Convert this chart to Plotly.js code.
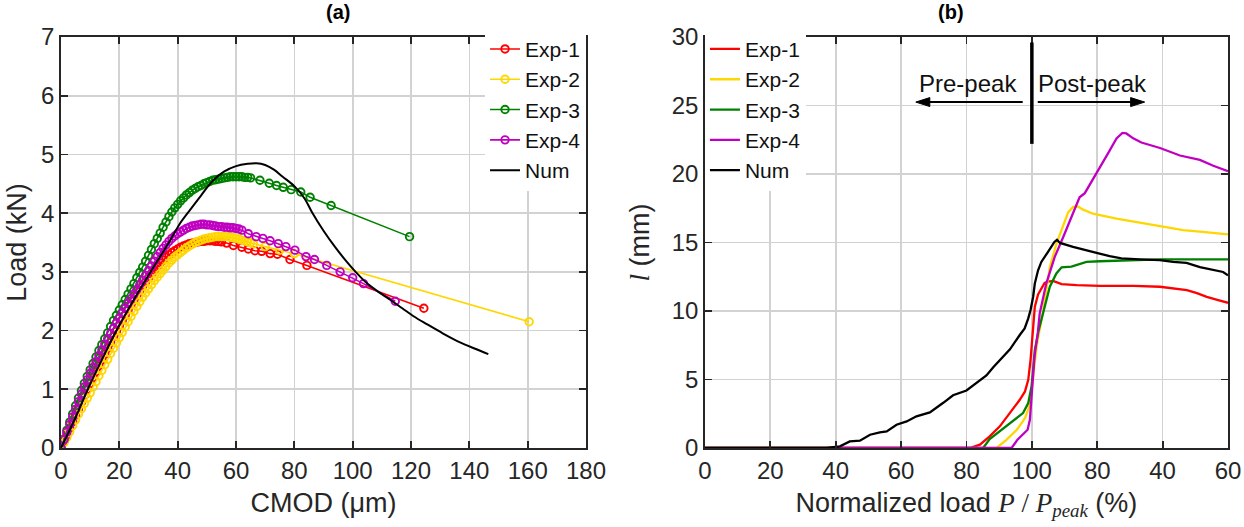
<!DOCTYPE html>
<html><head><meta charset="utf-8">
<script src="https://cdn.plot.ly/plotly-3.0.1.min.js"></script>
<style>html,body{margin:0;padding:0;background:#fff}#chart{width:1244px;height:527px}</style>
</head><body><div id="chart"></div>
<script>
// ---------- Panel (a): Load vs CMOD ----------
const exp1Cmod = [0,1,2,3,4,5,6,7,8,9,10,11,12,13,14,15,16,17,18,19,20,21,22,23,24,25,26,27,28,29,30,31,32,33,34,35,36,37,38,39,40,41,42,43,44,45,46,47,48,49,50,51,52,53,54,55,56.8,59.1,62.0,64.2,66.5,68.8,71.7,74.2,78.5,84.3,124.4];
const exp1Load = [0,0.11,0.22,0.34,0.45,0.56,0.67,0.78,0.89,1.0,1.1,1.2,1.3,1.4,1.5,1.6,1.7,1.8,1.9,1.99,2.08,2.17,2.26,2.35,2.44,2.52,2.6,2.68,2.76,2.83,2.9,2.97,3.03,3.09,3.15,3.2,3.25,3.29,3.33,3.36,3.39,3.42,3.44,3.46,3.48,3.49,3.5,3.51,3.52,3.52,3.53,3.53,3.53,3.52,3.52,3.51,3.49,3.45,3.42,3.39,3.36,3.35,3.31,3.30,3.21,3.11,2.38];

const exp2Cmod = [0,1,2,3,4,5,6,7,8,9,10,11,12,13,14,15,16,17,18,19,20,21,22,23,24,25,26,27,28,29,30,31,32,33,34,35,36,37,38,39,40,41,42,43,44,45,46,47,48,49,50,51,52,53,54,55,56,57,58,59,60,61,62,63,64,65,66,70,75,80,160.5];
const exp2Load = [0,0.09,0.18,0.28,0.38,0.48,0.58,0.67,0.76,0.85,0.94,1.04,1.13,1.23,1.32,1.42,1.51,1.61,1.7,1.79,1.88,1.97,2.06,2.15,2.24,2.33,2.41,2.49,2.57,2.64,2.71,2.78,2.85,2.91,2.97,3.03,3.09,3.15,3.2,3.25,3.29,3.33,3.37,3.41,3.44,3.47,3.5,3.52,3.54,3.56,3.57,3.58,3.59,3.6,3.6,3.6,3.6,3.6,3.59,3.58,3.57,3.56,3.54,3.53,3.51,3.5,3.48,3.43,3.37,3.31,2.15];

const exp3Cmod = [0,1,2,3,4,5,6,7,8,9,10,11,12,13,14,15,16,17,18,19,20,21,22,23,24,25,26,27,28,29,30,31,32,33,34,35,36,37,38,39,40,41,42,43,44,45,46,47,48,49,50,51,52,53,54,55,56,57,58,59,60,61,62,63,64,65,68.2,71.4,73.9,76.2,78.9,82.2,85.4,92.6,119.5];
const exp3Load = [0,0.15,0.3,0.44,0.58,0.72,0.85,0.98,1.1,1.22,1.33,1.44,1.55,1.66,1.76,1.86,1.96,2.07,2.17,2.26,2.35,2.44,2.53,2.62,2.71,2.8,2.9,2.99,3.08,3.18,3.28,3.38,3.48,3.57,3.66,3.76,3.85,3.94,4.02,4.09,4.15,4.21,4.26,4.31,4.35,4.39,4.42,4.45,4.47,4.5,4.52,4.54,4.56,4.57,4.58,4.59,4.6,4.61,4.62,4.62,4.62,4.62,4.62,4.61,4.61,4.6,4.56,4.51,4.47,4.44,4.40,4.36,4.27,4.13,3.6];

const exp4Cmod = [0,1,2,3,4,5,6,7,8,9,10,11,12,13,14,15,16,17,18,19,20,21,22,23,24,25,26,27,28,29,30,31,32,33,34,35,36,37,38,39,40,41,42,43,44,45,46,47,48,49,50,51,52,53,54,55,56,57,58,59,60,61,62,64.2,66.9,69.2,71.7,74.5,77.1,80.2,84.0,86.9,91.1,95.7,100.0,103.7,114.6];
const exp4Load = [0,0.14,0.27,0.4,0.53,0.66,0.79,0.92,1.04,1.16,1.27,1.37,1.47,1.57,1.67,1.77,1.86,1.95,2.04,2.13,2.21,2.3,2.38,2.46,2.54,2.62,2.7,2.78,2.86,2.94,3.02,3.1,3.18,3.26,3.33,3.4,3.46,3.52,3.57,3.61,3.65,3.68,3.71,3.74,3.76,3.78,3.79,3.8,3.81,3.81,3.8,3.8,3.79,3.78,3.77,3.77,3.76,3.76,3.75,3.75,3.74,3.73,3.71,3.65,3.6,3.57,3.53,3.48,3.43,3.37,3.26,3.21,3.11,3.0,2.9,2.8,2.5];

const numCmod = [0,5,9.4,14,19.1,25,31.1,37,41,44,48,52,56,60,64,67,70,73,76,80,83.5,86,90,94,97.5,101,105,110,113,117,121,125.4,131,136.8,142,146.5];
const numLoad = [0,0.52,1.02,1.5,2.01,2.53,3.03,3.5,3.84,4.04,4.3,4.55,4.71,4.8,4.84,4.85,4.82,4.74,4.62,4.46,4.25,4.02,3.7,3.42,3.2,3.0,2.8,2.62,2.52,2.38,2.24,2.11,1.95,1.8,1.69,1.6];

// ---------- Panel (b): crack length vs normalized load ----------
const bTickVals = [0,20,40,60,80,100,120,140,160];
const bTickText = ['0','20','40','60','80','100','80','40','60'];

const b1X = [0,81,84.1,87.1,90.2,93.3,96.3,97.9,98.9,99.6,100.2,100.9,101.9,102.9,103.9,105,106.5,109.1,113.7,120.9,131.1,139.2,144.3,147.4,150.5,153.5,157,160];
const b1L = [0,0,0.24,0.85,1.58,2.55,3.52,4.13,4.98,6.44,8.38,10.3,11.2,11.6,12.05,12.15,12.2,11.96,11.89,11.84,11.84,11.77,11.64,11.52,11.3,11.03,10.8,10.6];

const b2X = [0,89.2,92.3,95.4,97.9,99.4,100.3,101.5,103.5,105.5,107.5,109.6,111.1,112.6,114.1,115.7,118.7,125.9,136.1,146.3,153,160];
const b2L = [0,0,0.61,1.33,2.18,3.15,5.0,7.5,10.1,13.2,14.9,16.25,17.2,17.6,17.63,17.4,17.1,16.75,16.3,15.9,15.75,15.6];

const b3X = [0,85.1,87.1,90.2,94.3,97.3,98.9,99.9,100.5,100.9,102,103.5,104.5,105.5,107.5,109.1,112.1,114.6,116.7,120.8,131,139.2,147.3,160];
const b3L = [0,0,0.65,1.21,1.94,2.55,3.28,4.49,6.0,7.15,8.5,9.82,10.9,11.77,12.74,13.19,13.24,13.43,13.58,13.63,13.7,13.77,13.77,13.77];

const b4X = [0,93.8,95.6,97.2,98.7,99.4,99.7,100.2,100.8,101.8,102.4,104.4,107,109.6,112.1,114.6,116.2,118.2,120.8,123.3,125.9,127.7,128.9,131,133.5,139.2,145.3,151.4,155.5,160];
const b4L = [0,0,0.61,0.97,1.33,2.06,3.03,4.97,6.67,8.37,9.82,12.0,13.95,15.4,16.86,18.3,18.6,19.4,20.4,21.5,22.6,23.0,22.96,22.6,22.3,21.9,21.35,21.03,20.6,20.2];

const bNumX = [0,37.2,41.3,44.3,47.4,50.5,53.5,55.6,58.6,61.7,64.7,68.8,72.9,75.9,80.0,83.1,86.1,88.2,90.2,93.3,96.3,97.8,98.9,99.6,100.4,100.9,101.9,102.9,104.9,106.9,107.7,108.6,112.6,116,119.8,123.8,127.4,133.0,139.1,143.2,147.3,151.4,155.5,158.5,160];
const bNumL = [0,0,0.12,0.48,0.53,0.97,1.14,1.21,1.7,1.94,2.31,2.6,3.3,3.85,4.2,4.73,5.3,5.9,6.4,7.2,8.25,8.73,9.46,10.07,11.04,12.0,12.97,13.58,14.3,15.04,15.2,14.97,14.68,14.45,14.24,14.0,13.84,13.77,13.72,13.59,13.51,13.21,13.02,12.85,12.6];

// annotation positions (panel b, data units)
const peakLine = {x: 100, y0: 22.2, y1: 29.6};
const arrowY = 25.25;
const preArrow = {from: 97.2, to: 64.5};
const postArrow = {from: 101.8, to: 134.5};
const labelY = 26.6;
const preLabelX = 80.5, postLabelX = 118.5;

const names = ['Exp-1','Exp-2','Exp-3','Exp-4','Num'];
const colors = ['#ff0000','#ffd700','#008000','#c000c0','#000000'];

const aSeries = [[exp1Cmod,exp1Load],[exp2Cmod,exp2Load],[exp3Cmod,exp3Load],[exp4Cmod,exp4Load]];
const bSeries = [[b1X,b1L],[b2X,b2L],[b3X,b3L],[b4X,b4L],[bNumX,bNumL]];

const traces = [];
aSeries.forEach((s,i)=>{
  traces.push({x:s[0], y:s[1], type:'scatter', mode:'lines+markers', name:names[i],
    xaxis:'x', yaxis:'y', legend:'legend',
    line:{color:colors[i], width:1.6},
    marker:{symbol:'circle-open', size:7.5, color:colors[i], line:{width:1.9, color:colors[i]}}});
});
traces.push({x:numCmod, y:numLoad, type:'scatter', mode:'lines', name:'Num',
  xaxis:'x', yaxis:'y', legend:'legend', line:{color:'#000', width:2, shape:'spline'}});

bSeries.forEach((s,i)=>{
  traces.push({x:s[0], y:s[1], type:'scatter', mode:'lines', name:names[i],
    xaxis:'x2', yaxis:'y2', legend:'legend2',
    line:{color:colors[i], width:2.3}});
});

const FONT = 'Liberation Sans, Arial, sans-serif';
const SERIF = 'Liberation Serif';
const axBase = {showline:true, linecolor:'#262626', linewidth:1.8, mirror:'ticks',
  ticks:'inside', ticklen:7, tickwidth:1.8, tickcolor:'#262626',
  showgrid:true, gridcolor:'#d2d2d2', gridwidth:1.7, zeroline:false,
  tickfont:{family:FONT, size:24, color:'#262626'}, fixedrange:true};
const titleFont = {family:FONT, size:27, color:'#262626'};

// arrow shaft + arrowheads (pixel-sized heads anchored at data points)
const arrowShapes = [
  {type:'line', xref:'x2', yref:'y2', x0:preArrow.from, x1:preArrow.to+3, y0:arrowY, y1:arrowY, line:{color:'#000', width:2}},
  {type:'line', xref:'x2', yref:'y2', x0:postArrow.from, x1:postArrow.to-3, y0:arrowY, y1:arrowY, line:{color:'#000', width:2}},
  {type:'path', xref:'x2', yref:'y2', xsizemode:'pixel', ysizemode:'pixel', xanchor:preArrow.to, yanchor:arrowY,
    path:'M0,0 L14,4.5 L14,-4.5 Z', fillcolor:'#000', line:{color:'#000', width:1}},
  {type:'path', xref:'x2', yref:'y2', xsizemode:'pixel', ysizemode:'pixel', xanchor:postArrow.to, yanchor:arrowY,
    path:'M0,0 L-14,4.5 L-14,-4.5 Z', fillcolor:'#000', line:{color:'#000', width:1}}
];

const layout = {
  width:1244, height:527,
  margin:{l:61, r:16, t:37, b:79},
  paper_bgcolor:'#ffffff', plot_bgcolor:'#ffffff',
  font:{family:FONT, size:22, color:'#262626'},
  showlegend:true,
  xaxis:Object.assign({}, axBase, {domain:[0,0.4499], range:[0,180], tickvals:[0,20,40,60,80,100,120,140,160,180],
    title:{text:'CMOD (μm)', font:titleFont, standoff:10}}),
  yaxis:Object.assign({}, axBase, {range:[0,7], tickvals:[0,1,2,3,4,5,6,7],
    title:{text:'Load (kN)', font:titleFont, standoff:6}}),
  xaxis2:Object.assign({}, axBase, {domain:[0.5518,1], anchor:'y2', range:[0,160], tickvals:bTickVals, ticktext:bTickText,
    title:{text:'Normalized load <span style="font-family:'+SERIF+'"><i>P</i> / <i>P</i><sub><i>peak</i></sub></span> (%)', font:titleFont, standoff:10}}),
  yaxis2:Object.assign({}, axBase, {anchor:'x2', range:[0,30], tickvals:[0,5,10,15,20,25,30],
    title:{text:'<span style="font-family:'+SERIF+'"><i>l</i></span> (mm)', font:titleFont, standoff:14}}),
  legend:{x:0.4499, xanchor:'right', y:1.02, yanchor:'top', bgcolor:'#ffffff', borderwidth:0,
    font:{family:FONT, size:21, color:'#111'}, tracegroupgap:0},
  legend2:{x:0.5518, xanchor:'left', y:1.02, yanchor:'top', bgcolor:'#ffffff', borderwidth:0,
    font:{family:FONT, size:21, color:'#111'}, tracegroupgap:0},
  shapes:[{type:'line', xref:'x2', yref:'y2', x0:peakLine.x, x1:peakLine.x, y0:peakLine.y0, y1:peakLine.y1,
    line:{color:'#000', width:3.5}}].concat(arrowShapes),
  annotations:[
    {xref:'paper', yref:'paper', x:0.225, y:1, yanchor:'bottom', yshift:12, showarrow:false,
      text:'<b>(a)</b>', font:{family:FONT, size:20, color:'#000'}},
    {xref:'paper', yref:'paper', x:0.7759, y:1, yanchor:'bottom', yshift:12, showarrow:false,
      text:'<b>(b)</b>', font:{family:FONT, size:20, color:'#000'}},
    {xref:'x2', yref:'y2', x:preLabelX, y:labelY, showarrow:false, text:'Pre-peak',
      font:{family:FONT, size:24, color:'#111'}},
    {xref:'x2', yref:'y2', x:postLabelX, y:labelY, showarrow:false, text:'Post-peak',
      font:{family:FONT, size:24, color:'#111'}}
  ]
};

Plotly.newPlot('chart', traces, layout, {displayModeBar:false, staticPlot:true});
</script></body></html>
